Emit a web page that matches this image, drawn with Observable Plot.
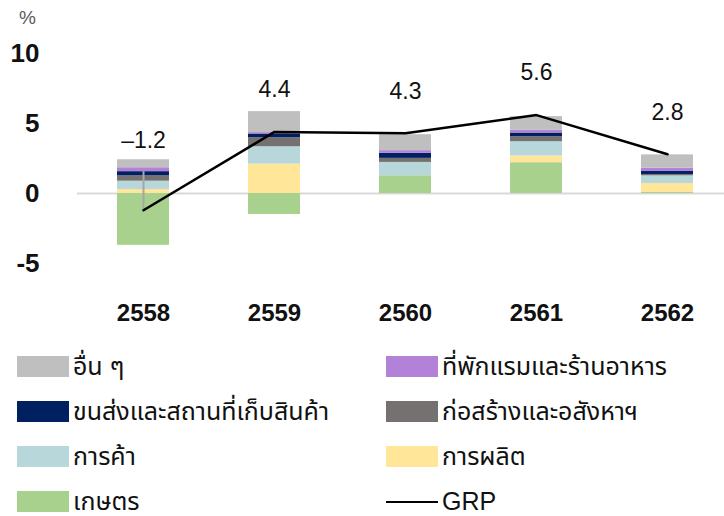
<!DOCTYPE html>
<html>
<head>
<meta charset="utf-8">
<script src="https://cdn.jsdelivr.net/npm/d3@7"></script>
<script src="https://cdn.jsdelivr.net/npm/@observablehq/plot@0.6"></script>
<style>
  body { margin: 0; background: #fff; font-family: "Liberation Sans", "Noto Sans Thai", "Noto Sans", sans-serif; }
  #wrap { width: 724px; height: 516px; position: relative; overflow: hidden; }
  #legend { position: absolute; left: 0; top: 344px; width: 724px; }
  .item { position: absolute; height: 45px; display: flex; align-items: center; font-size: 25px; color: #111; white-space: nowrap; }
  .sw { width: 52px; height: 21px; margin-right: 4px; flex: none; }
  .ln { width: 52px; height: 0; border-top: 2px solid #000; margin-right: 4px; flex: none; }
</style>
</head>
<body>
<div id="wrap">
  <div id="chart"></div>
  <div id="legend"></div>
</div>
<script>
// ---- data ----
const years = ["2558", "2559", "2560", "2561", "2562"];
const sectors = ["เกษตร", "การผลิต", "การค้า", "ก่อสร้างและอสังหาฯ", "ขนส่งและสถานที่เก็บสินค้า", "ที่พักแรมและร้านอาหาร", "อื่น ๆ"];
const colors = ["#A9D18E", "#FFE699", "#B7D7DB", "#767171", "#002060", "#B282D8", "#BFBFBF"];
const agriculture   = [-3.70, -1.50, 1.27, 2.20, 0.07];
const manufacturing = [0.28, 2.10, 0.00, 0.48, 0.64];
const trade         = [0.60, 1.24, 0.95, 1.02, 0.55];
const construction  = [0.38, 0.64, 0.29, 0.36, 0.10];
const transport     = [0.30, 0.27, 0.36, 0.26, 0.21];
const hotels        = [0.28, 0.10, 0.19, 0.19, 0.24];
const others        = [0.57, 1.50, 1.14, 0.98, 0.95];
const grp           = [-1.2, 4.4, 4.3, 5.6, 2.8];
const yTicks = [-5, 0, 5, 10];

const seriesValues = [agriculture, manufacturing, trade, construction, transport, hotels, others];
const rows = [];
years.forEach((yr, i) => sectors.forEach((s, j) => rows.push({year: yr, sector: s, value: seriesValues[j][i]})));
const grpRows = years.map((yr, i) => ({year: yr, grp: grp[i]}));
// leader line for negative GRP: from GRP point up to top of the positive stack through transport
const leader = grpRows.filter(d => d.grp < 0).map(d => {
  const i = years.indexOf(d.year);
  const top = [manufacturing, trade, construction, transport].reduce((a, arr) => a + Math.max(0, arr[i]), Math.max(0, agriculture[i]));
  return {year: d.year, y1: d.grp, y2: top};
});
const fmt = v => (v < 0 ? "–" : "") + Math.abs(v).toFixed(1);

const chart = Plot.plot({
  width: 724,
  height: 340,
  marginTop: 53,
  marginBottom: 77,
  marginLeft: 77,
  marginRight: 0,
  style: {fontFamily: "'Liberation Sans', Arial, sans-serif", color: "#111", background: "#fff"},
  x: {domain: years, range: [77, 734], paddingInner: 0.6, paddingOuter: 0.3, label: null},
  y: {domain: [-5, 10], label: null},
  color: {domain: sectors, range: colors},
  marks: [
    Plot.ruleY([0], {stroke: "#D9D9D9", strokeWidth: 2}),
    Plot.barY(rows, Plot.stackY({order: sectors, x: "year", y: "value", fill: "sector"})),
    Plot.ruleX(leader, {x: "year", y1: "y1", y2: "y2", stroke: "#A6A6A6", strokeWidth: 2}),
    Plot.line(grpRows, {x: "year", y: "grp", stroke: "#000", strokeWidth: 2.5}),
    Plot.text(grpRows.filter(d => d.grp >= 0), {x: "year", y: "grp", text: d => fmt(d.grp), dy: -42, fontSize: 23, fill: "#111"}),
    Plot.text(grpRows.filter(d => d.grp < 0), {x: "year", y: () => 0, text: d => fmt(d.grp), dy: -53, fontSize: 23, fill: "#111"}),
    Plot.axisY({ticks: yTicks, tickSize: 0, tickPadding: 38, tickFormat: d => (d < 0 ? "-" : "") + Math.abs(d), fontSize: 26, fontWeight: "bold"}),
    Plot.axisX({tickSize: 0, tickPadding: 40, fontSize: 24, fontWeight: "bold"}),
    Plot.text(["%"], {frameAnchor: "top-left", textAnchor: "middle", lineAnchor: "middle", dx: -50, dy: -36, fontSize: 19, fill: "#595959", text: d => d})
  ]
});
document.getElementById("chart").appendChild(chart);

// ---- legend ----
const legendOrder = [
  ["อื่น ๆ", "#BFBFBF"], ["ที่พักแรมและร้านอาหาร", "#B282D8"],
  ["ขนส่งและสถานที่เก็บสินค้า", "#002060"], ["ก่อสร้างและอสังหาฯ", "#767171"],
  ["การค้า", "#B7D7DB"], ["การผลิต", "#FFE699"],
  ["เกษตร", "#A9D18E"], ["GRP", null]
];
const leg = document.getElementById("legend");
legendOrder.forEach(([name, col], k) => {
  const el = document.createElement("div");
  el.className = "item";
  el.style.left = (k % 2 === 0 ? 17 : 386) + "px";
  el.style.top = (Math.floor(k / 2) * 45) + "px";
  const sw = document.createElement("div");
  if (col) { sw.className = "sw"; sw.style.background = col; } else { sw.className = "ln"; }
  el.appendChild(sw);
  const t = document.createElement("span");
  t.textContent = name;
  el.appendChild(t);
  leg.appendChild(el);
});
</script>
</body>
</html>
